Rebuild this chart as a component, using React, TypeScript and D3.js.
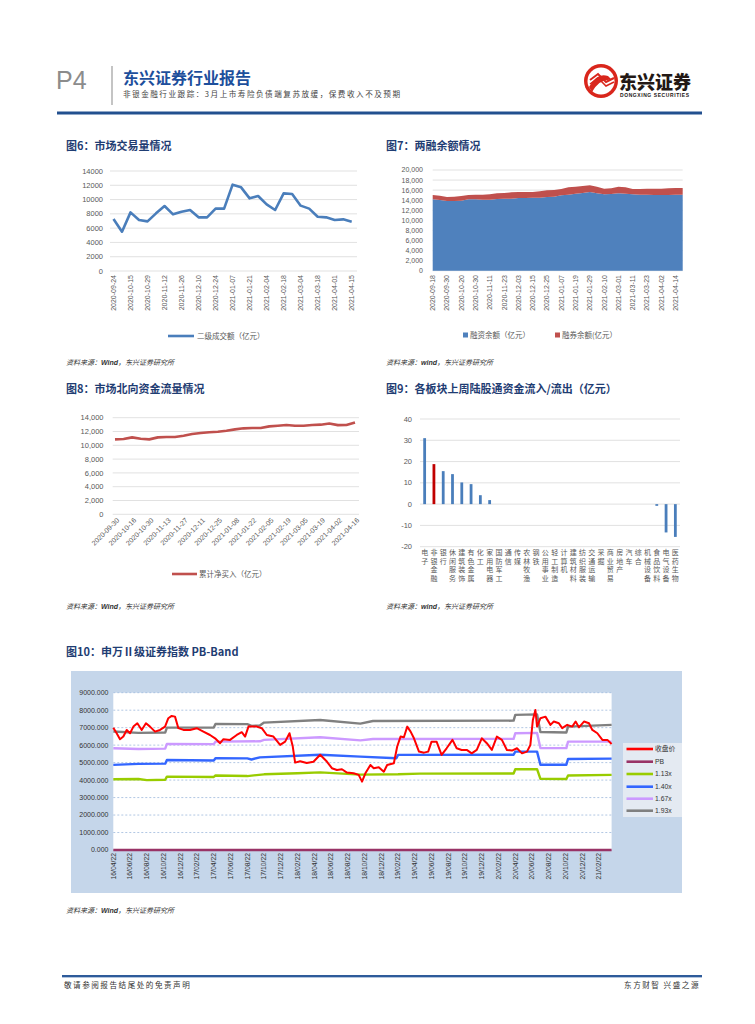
import * as d3 from 'd3';

const NUM_FONT = "'Liberation Sans', 'Noto Sans CJK SC', sans-serif";
const CJK_FONT = "'Noto Sans CJK SC', 'Liberation Sans', sans-serif";
const AXIS_INK = '#595959';
const GRID = '#d9d9d9';
const TITLE_INK = '#1f3d73';

// ---- 图6 市场交易量
const turnoverDates = [
  '2020-09-24', '2020-10-09', '2020-10-15', '2020-10-22', '2020-10-29', '2020-11-05', '2020-11-12',
  '2020-11-19', '2020-11-26', '2020-12-03', '2020-12-10', '2020-12-17', '2020-12-24', '2020-12-31',
  '2021-01-07', '2021-01-14', '2021-01-21', '2021-01-28', '2021-02-04', '2021-02-10', '2021-02-18',
  '2021-02-25', '2021-03-04', '2021-03-11', '2021-03-18', '2021-03-25', '2021-04-01', '2021-04-08',
  '2021-04-15',
];
const turnoverValues = [
  7280, 5500, 8210, 7140, 6950, 8070, 9100, 7930, 8300, 8540, 7510, 7510, 8730, 8730, 12090, 11710,
  10170, 10500, 9330, 8540, 10870, 10780, 9150, 8730, 7600, 7510, 7140, 7230, 6900,
];

// ---- 图7 两融余额 (half-label steps)
const marginLabels = [
  '2020-09-18', '2020-09-30', '2020-10-20', '2020-10-30', '2020-11-11', '2020-11-23', '2020-12-03',
  '2020-12-15', '2020-12-25', '2021-01-07', '2021-01-19', '2021-01-29', '2021-02-10', '2021-03-01',
  '2021-03-11', '2021-03-23', '2021-04-02', '2021-04-14',
];
const financingBalance = [
  14170, 14040, 13840, 13840, 13900, 14170, 14170, 14100, 14100, 14240, 14300, 14300, 14440, 14440,
  14500, 14500, 14640, 14700, 14970, 15100, 15300, 15430, 15630, 15360, 15170, 15230, 15360, 15300,
  15170, 15100, 15100, 15030, 15030, 15030, 15100, 15100,
];
const lendingBalance = [
  860, 860, 800, 860, 930, 860, 930, 1000, 1070, 1120, 1130, 1260, 1190, 1190, 1130, 1260, 1320, 1330,
  1260, 1460, 1390, 1390, 1320, 1330, 1120, 1130, 1330, 1260, 1060, 1130, 1190, 1260, 1260, 1330,
  1320, 1320,
];

// ---- 图8 北向资金累计净买入
const northDates = [
  '2020-09-30', '2020-10-09', '2020-10-16', '2020-10-23', '2020-10-30', '2020-11-06', '2020-11-13',
  '2020-11-20', '2020-11-27', '2020-12-04', '2020-12-11', '2020-12-18', '2020-12-25', '2020-12-31',
  '2021-01-08', '2021-01-15', '2021-01-22', '2021-01-29', '2021-02-05', '2021-02-10', '2021-02-19',
  '2021-02-26', '2021-03-05', '2021-03-12', '2021-03-19', '2021-03-26', '2021-04-02', '2021-04-09',
  '2021-04-16',
];
const northValues = [
  10860, 10910, 11150, 10960, 10860, 11150, 11200, 11200, 11390, 11630, 11780, 11880, 11970, 12120,
  12310, 12460, 12500, 12500, 12740, 12840, 12940, 12840, 12840, 12940, 12990, 13150, 12920, 12950,
  13320,
];

// ---- 图9 各板块陆股通流入
const sectors = [
  '电子', '非银金融', '银行', '休闲服务', '建筑装饰', '有色金属', '化工', '家用电器', '国防军工', '通信',
  '传媒', '农林牧渔', '钢铁', '公用事业', '轻工制造', '计算机', '建筑材料', '纺织服装', '交通运输', '采掘',
  '商业贸易', '房地产', '汽车', '综合', '机械设备', '食品饮料', '电气设备', '医药生物',
];
const sectorFlows = [
  31, 18.8, 15.5, 14.1, 10.2, 9.4, 4.2, 1.9, 0, 0, 0, 0, 0, 0, 0, 0, 0, 0, 0, 0, 0, 0, 0, 0, 0, -0.8,
  -13.3, -15.4,
];

// ---- 图10 PB-Band, x = months since 2016-04-22
const pbTickLabels = [
  '16/04/22', '16/06/22', '16/08/22', '16/10/22', '16/12/22', '17/02/22', '17/04/22', '17/06/22',
  '17/08/22', '17/10/22', '17/12/22', '18/02/22', '18/04/22', '18/06/22', '18/08/22', '18/10/22',
  '18/12/22', '19/02/22', '19/04/22', '19/06/22', '19/08/22', '19/10/22', '19/12/22', '20/02/22',
  '20/04/22', '20/06/22', '20/08/22', '20/10/22', '20/12/22', '21/02/22',
];
const closeSeries: [number, number][] = [
  [0, 7000], [0.4, 6680], [0.8, 6340], [1.2, 6490], [1.6, 6870], [2.0, 6680], [2.4, 7060], [2.87, 7250],
  [3.39, 6870], [3.9, 7250], [4.38, 7060], [4.98, 6775], [5.58, 6870], [6.18, 7060], [6.57, 7540],
  [6.97, 7670], [7.37, 7630], [7.77, 6970], [8.37, 6870], [9.16, 6870], [9.96, 6970], [10.76, 6775],
  [11.55, 6580], [12.15, 6390], [12.75, 6110], [13.15, 6340], [13.94, 6300], [14.74, 6580],
  [15.34, 6740], [15.74, 6490], [16.14, 7060], [17.13, 7060], [17.73, 6970], [18.33, 6580],
  [19.12, 6490], [19.92, 6010], [20.52, 6200], [21.04, 6680], [21.43, 5920], [21.71, 5000],
  [22.31, 5080], [23.1, 4980], [23.9, 5050], [24.7, 5450], [25.5, 5060], [26.1, 4680], [26.7, 4580],
  [27.3, 4620], [27.9, 4430], [28.7, 4390], [29.3, 4300], [29.7, 3910], [30.1, 4390], [30.7, 4866],
  [31.1, 4680], [31.7, 4730], [32.3, 4480], [32.7, 4866], [33.5, 4960], [33.9, 5920], [34.3, 6490],
  [34.7, 6450], [35.1, 7060], [35.5, 6775], [35.9, 6390], [36.5, 5630], [37.1, 5570], [37.6, 5630],
  [38.0, 6200], [38.6, 6200], [39.2, 5440], [39.8, 5820], [40.5, 6300], [41.0, 5820], [41.6, 5725],
  [42.2, 5725], [42.8, 5530], [43.4, 5725], [44.0, 6390], [44.6, 6110], [45.2, 5725], [45.8, 6490],
  [46.4, 6300], [47.0, 5725], [47.6, 5690], [48.2, 5820], [48.8, 5530], [49.4, 5630], [49.8, 6010],
  [50.1, 7440], [50.4, 8015], [50.6, 7060], [51.0, 7540], [51.6, 7630], [52.2, 7160], [52.6, 7350],
  [53.2, 7250], [53.6, 6970], [54.2, 7160], [54.8, 7060], [55.2, 7350], [55.6, 7020], [56.2, 7350],
  [56.8, 7250], [57.2, 6870], [57.8, 6680], [58.4, 6300], [59.0, 6300], [59.5, 6070],
];
const pbSeries: [number, number][] = [
  [0, 2.0], [12, 1.9], [24, 1.4], [30, 1.3], [36, 1.7], [50, 2.0], [59.5, 1.8],
];
const band113: [number, number][] = [
  [0, 4050], [3, 4060], [4, 4000], [6.2, 4020], [6.4, 4200], [12, 4180], [12.2, 4260], [16, 4230],
  [18, 4330], [22, 4390], [24.7, 4440], [29.5, 4310], [34, 4330], [36.6, 4370], [47.8, 4380],
  [48, 4620], [50.6, 4630], [51, 4070], [54.1, 4060], [54.3, 4260], [59.5, 4300],
];
const band140: [number, number][] = [
  [0, 4870], [3, 4930], [6.2, 4940], [6.4, 5150], [12, 5120], [12.2, 5250], [16, 5240], [16.5, 5180],
  [17.5, 5300], [24.7, 5450], [29.5, 5340], [33.8, 5250], [34, 5440], [47.8, 5450], [48, 5630],
  [50.6, 5630], [51, 4880], [54.1, 4880], [54.3, 5210], [59.5, 5230],
];
const band167: [number, number][] = [
  [0, 5820], [3, 5780], [6.2, 5800], [6.4, 6070], [12, 6060], [12.2, 6200], [17.5, 6220], [18, 6300],
  [24.7, 6450], [29.5, 6270], [31, 6350], [47.8, 6360], [48, 6680], [50.6, 6700], [51, 5830],
  [54.1, 5830], [54.3, 6200], [59.5, 6200],
];
const band193: [number, number][] = [
  [0, 6780], [3, 6700], [6.2, 6720], [6.4, 7000], [12, 7010], [12.2, 7210], [16, 7200], [16.5, 7100],
  [17.5, 7120], [18, 7290], [24.7, 7440], [29.5, 7230], [31, 7380], [47.8, 7400], [48, 7730],
  [50.6, 7760], [51, 6750], [54.1, 6720], [54.3, 7060], [59.5, 7160],
];
const pbLegend = ['收盘价', 'PB', '1.13x', '1.40x', '1.67x', '1.93x'];
const pbColors = ['#ff0000', '#993366', '#99cc00', '#3366ff', '#cc99ff', '#808080'];

function Header() {
  return (
    <g>
      <text x={56} y={89} fontFamily={NUM_FONT} fontSize={25} fill="#8c8c8c">P4</text>
      <line x1={112} x2={112} y1={66} y2={105} stroke="#b0b0b0" strokeWidth={1.5} />
      <text x={123} y={84} fontFamily={CJK_FONT} fontSize={16} fontWeight={700} fill="#1d4f9c">东兴证券行业报告</text>
      <text x={123} y={97} fontFamily={CJK_FONT} fontSize={7.6} letterSpacing={1.5} fill="#444">
        非银金融行业跟踪：3月上市寿险负债端复苏放缓，保费收入不及预期
      </text>
      <circle cx={601} cy={81} r={17} fill="#d9261c" />
      <circle cx={601} cy={81} r={13.5} fill="#fff" />
      <path d="M589,87 Q597,72 608,76 L612,80 Q600,78 592,92 Z" fill="#d9261c" />
      <path d="M590,80 L598,74 L606,82 L614,78" fill="none" stroke="#d9261c" strokeWidth={2} />
      <path d="M590,84 L598,78 L606,86 L614,82" fill="none" stroke="#d9261c" strokeWidth={1.5} />
      <text x={619} y={89} fontFamily={CJK_FONT} fontSize={18} fontWeight={900} fill="#231815">东兴证券</text>
      <text x={620} y={97} fontFamily={NUM_FONT} fontSize={5} fontWeight={700} fill="#231815" textLength={69}>
        DONGXING SECURITIES
      </text>
      <rect x={57} y={111.5} width={645} height={3} fill="#22508f" />
    </g>
  );
}

function Title({ x, y, text }: { x: number; y: number; text: string }) {
  return (
    <text x={x} y={y} fontFamily={CJK_FONT} fontSize={11} fontWeight={700} fill={TITLE_INK}>
      {text}
    </text>
  );
}

function Source({ x, y, who }: { x: number; y: number; who: string }) {
  return (
    <text x={x} y={y} fontFamily={CJK_FONT} fontSize={7} fontStyle="italic" fill="#333">
      资料来源：<tspan fontFamily={NUM_FONT} fontWeight={700}>{who}</tspan>，东兴证券研究所
    </text>
  );
}

function TurnoverChart() {
  const x = d3.scalePoint<string>().domain(turnoverDates).range([113.5, 351.7]);
  const y = d3.scaleLinear().domain([0, 14000]).range([271, 171]);
  const line = d3.line<number>().x((_, i) => x(turnoverDates[i])!).y((d) => y(d));
  return (
    <g>
      {y.ticks(7).map((t) => (
        <g key={t}>
          <line x1={110} x2={357} y1={y(t)} y2={y(t)} stroke={GRID} strokeWidth={0.8} />
          <text x={103} y={y(t)} dy="0.35em" textAnchor="end" fontFamily={NUM_FONT} fontSize={7.5} fill={AXIS_INK}>
            {t}
          </text>
        </g>
      ))}
      <path d={line(turnoverValues)!} fill="none" stroke="#4a7ebb" strokeWidth={2.6} strokeLinejoin="round" />
      {turnoverDates.map((d, i) =>
        i % 2 === 0 ? (
          <text key={d} transform={`translate(${x(d)},275) rotate(-90)`} dy="0.35em" textAnchor="end"
            fontFamily={NUM_FONT} fontSize={7} fill={AXIS_INK}>{d}</text>
        ) : null,
      )}
      <line x1={168} x2={194} y1={336} y2={336} stroke="#4a7ebb" strokeWidth={2.6} />
      <text x={197} y={336} dy="0.35em" fontFamily={CJK_FONT} fontSize={7.5} fill={AXIS_INK}>二级成交额（亿元）</text>
    </g>
  );
}

function MarginChart() {
  const x = d3.scaleLinear().domain([0, financingBalance.length - 1]).range([432.7, 682.7]);
  const y = d3.scaleLinear().domain([0, 20000]).range([270.7, 170]);
  const idx = d3.range(financingBalance.length);
  const fin = d3.area<number>().x((i) => x(i)).y0(y(0)).y1((i) => y(financingBalance[i]));
  const lend = d3.area<number>().x((i) => x(i))
    .y0((i) => y(financingBalance[i]))
    .y1((i) => y(financingBalance[i] + lendingBalance[i]));
  const fmt = d3.format(',');
  return (
    <g>
      {y.ticks(10).map((t) => (
        <g key={t}>
          <line x1={432.7} x2={682.7} y1={y(t)} y2={y(t)} stroke={GRID} strokeWidth={0.8} />
          <text x={423} y={y(t)} dy="0.35em" textAnchor="end" fontFamily={NUM_FONT} fontSize={7} fill={AXIS_INK}>
            {fmt(t)}
          </text>
        </g>
      ))}
      <path d={fin(idx)!} fill="#4f81bd" />
      <path d={lend(idx)!} fill="#c0504d" />
      {marginLabels.map((d, i) => (
        <text key={d} transform={`translate(${x(i * 2)},275) rotate(-90)`} dy="0.35em" textAnchor="end"
          fontFamily={NUM_FONT} fontSize={7} fill={AXIS_INK}>{d}</text>
      ))}
      <rect x={463} y={332.5} width={5} height={5} fill="#4f81bd" />
      <text x={470} y={335} dy="0.35em" fontFamily={CJK_FONT} fontSize={7.5} fill={AXIS_INK}>融资余额（亿元）</text>
      <rect x={555} y={332.5} width={5} height={5} fill="#c0504d" />
      <text x={562} y={335} dy="0.35em" fontFamily={CJK_FONT} fontSize={7.5} fill={AXIS_INK}>融券余额(亿元）</text>
    </g>
  );
}

function NorthChart() {
  const x = d3.scalePoint<string>().domain(northDates).range([115, 355]);
  const y = d3.scaleLinear().domain([0, 14000]).range([514.3, 417.7]);
  const line = d3.line<number>().x((_, i) => x(northDates[i])!).y((d) => y(d));
  const fmt = d3.format(',');
  return (
    <g>
      {y.ticks(7).map((t) => (
        <g key={t}>
          <line x1={112.7} x2={359} y1={y(t)} y2={y(t)} stroke={GRID} strokeWidth={0.8} />
          <text x={103.5} y={y(t)} dy="0.35em" textAnchor="end" fontFamily={NUM_FONT} fontSize={7.5} fill={AXIS_INK}>
            {fmt(t)}
          </text>
        </g>
      ))}
      <path d={line(northValues)!} fill="none" stroke="#c0504d" strokeWidth={2.6} strokeLinejoin="round" />
      {northDates.map((d, i) =>
        i % 2 === 0 ? (
          <text key={d} transform={`translate(${x(d)! + 3},519) rotate(-45)`} dy="0.35em" textAnchor="end"
            fontFamily={NUM_FONT} fontSize={7} fill={AXIS_INK}>{d}</text>
        ) : null,
      )}
      <line x1={172} x2={197} y1={574} y2={574} stroke="#c0504d" strokeWidth={2.6} />
      <text x={199} y={574} dy="0.35em" fontFamily={CJK_FONT} fontSize={7.5} fill={AXIS_INK}>累计净买入（亿元）</text>
    </g>
  );
}

function SectorChart() {
  const x = d3.scaleBand<string>().domain(sectors).range([420, 680]).paddingInner(0.7).paddingOuter(0.35);
  const y = d3.scaleLinear().domain([-20, 40]).range([546.7, 419]);
  return (
    <g>
      {y.ticks(6).map((t) => (
        <g key={t}>
          <line x1={420} x2={680} y1={y(t)} y2={y(t)} stroke={GRID} strokeWidth={0.8} />
          <text x={412} y={y(t)} dy="0.35em" textAnchor="end" fontFamily={NUM_FONT} fontSize={7.5} fill={AXIS_INK}>
            {t}
          </text>
        </g>
      ))}
      {sectors.map((s, i) => {
        const v = sectorFlows[i];
        if (v === 0) return null;
        return (
          <rect key={s} x={x(s)} width={x.bandwidth()} y={y(Math.max(0, v))}
            height={Math.abs(y(v) - y(0))} fill={i === 1 ? '#c00000' : '#4a7ebb'} />
        );
      })}
      {sectors.map((s) => (
        <text key={s} fontFamily={CJK_FONT} fontSize={7} fill={AXIS_INK} textAnchor="middle">
          {Array.from(s).map((ch, j) => (
            <tspan key={j} x={x(s)! + x.bandwidth() / 2} y={555 + j * 8.6}>{ch}</tspan>
          ))}
        </text>
      ))}
    </g>
  );
}

function PbBandChart() {
  const x = d3.scaleLinear().domain([0, 59.5]).range([113.3, 611.6]);
  const y = d3.scaleLinear().domain([0, 9000]).range([850, 692.7]);
  const line = d3.line<[number, number]>().x((d) => x(d[0])).y((d) => y(d[1]));
  const fmt = d3.format('.3f');
  const series: [string, [number, number][], number][] = [
    [pbColors[1], pbSeries, 2.5],
    [pbColors[2], band113, 2.4],
    [pbColors[3], band140, 2.4],
    [pbColors[4], band167, 2.4],
    [pbColors[5], band193, 2.4],
    [pbColors[0], closeSeries, 2],
  ];
  const legendY = [749, 761.7, 774, 786.7, 798.7, 810.7];
  return (
    <g>
      <rect x={71} y={671} width={611} height={222} fill="#c5d6ea" />
      <rect x={113.3} y={692.7} width={498.3} height={157.3} fill="#fff" />
      {y.ticks(9).map((t) => (
        <g key={t}>
          {t > 0 && (
            <line x1={113.3} x2={611.6} y1={y(t)} y2={y(t)} stroke="#9db9dc" strokeWidth={0.8} strokeDasharray="2 2" />
          )}
          <text x={108.5} y={y(t)} dy="0.35em" textAnchor="end" fontFamily={NUM_FONT} fontSize={7} fill="#333">
            {fmt(t)}
          </text>
        </g>
      ))}
      {series.map(([c, d, w], i) => (
        <path key={i} d={line(d)!} fill="none" stroke={c} strokeWidth={w} strokeLinejoin="round" />
      ))}
      {pbTickLabels.map((l, i) => (
        <text key={l} transform={`translate(${x(i * 2)},853) rotate(-90)`} dy="0.35em" textAnchor="end"
          fontFamily={NUM_FONT} fontSize={6.8} fill="#333">{l}</text>
      ))}
      <rect x={623} y={743} width={59} height={74} fill="#e4eaf2" />
      {pbLegend.map((l, i) => (
        <g key={l}>
          <line x1={626.5} x2={653} y1={legendY[i]} y2={legendY[i]} stroke={pbColors[i]} strokeWidth={2.6} />
          <text x={655} y={legendY[i]} dy="0.35em" fontFamily={i === 0 ? CJK_FONT : NUM_FONT} fontSize={6.8} fill="#333">
            {l}
          </text>
        </g>
      ))}
    </g>
  );
}

function Footer() {
  return (
    <g>
      <line x1={62} x2={702} y1={976} y2={976} stroke="#2e5b9a" strokeWidth={1.8} />
      <line x1={62} x2={702} y1={977.5} y2={977.5} stroke="#9fb6d6" strokeWidth={0.8} />
      <text x={64} y={988} fontFamily={CJK_FONT} fontSize={7.6} letterSpacing={1.5} fill="#333">敬请参阅报告结尾处的免责声明</text>
      <text x={700} y={988} textAnchor="end" fontFamily={CJK_FONT} fontSize={7.6} letterSpacing={1.5} fill="#333">东方财智 兴盛之源</text>
    </g>
  );
}

export default function App() {
  return (
    <div style={{ position: 'absolute', left: 0, top: 0 }}>
      <svg width={755} height={1024} viewBox="0 0 755 1024" style={{ display: 'block', background: '#fff' }}>
        <Header />
        <Title x={66} y={150} text="图6：市场交易量情况" />
        <Title x={386} y={150} text="图7：两融余额情况" />
        <TurnoverChart />
        <MarginChart />
        <Source x={66} y={365} who="Wind" />
        <Source x={386} y={365} who="wind" />
        <Title x={66} y={393} text="图8：市场北向资金流量情况" />
        <Title x={386} y={393} text="图9：各板块上周陆股通资金流入/流出（亿元）" />
        <NorthChart />
        <SectorChart />
        <Source x={66} y={609} who="Wind" />
        <Source x={386} y={609} who="wind" />
        <Title x={66} y={656} text="图10：申万Ⅱ级证券指数 PB-Band" />
        <PbBandChart />
        <Source x={66} y={913} who="Wind" />
        <Footer />
      </svg>
    </div>
  );
}
